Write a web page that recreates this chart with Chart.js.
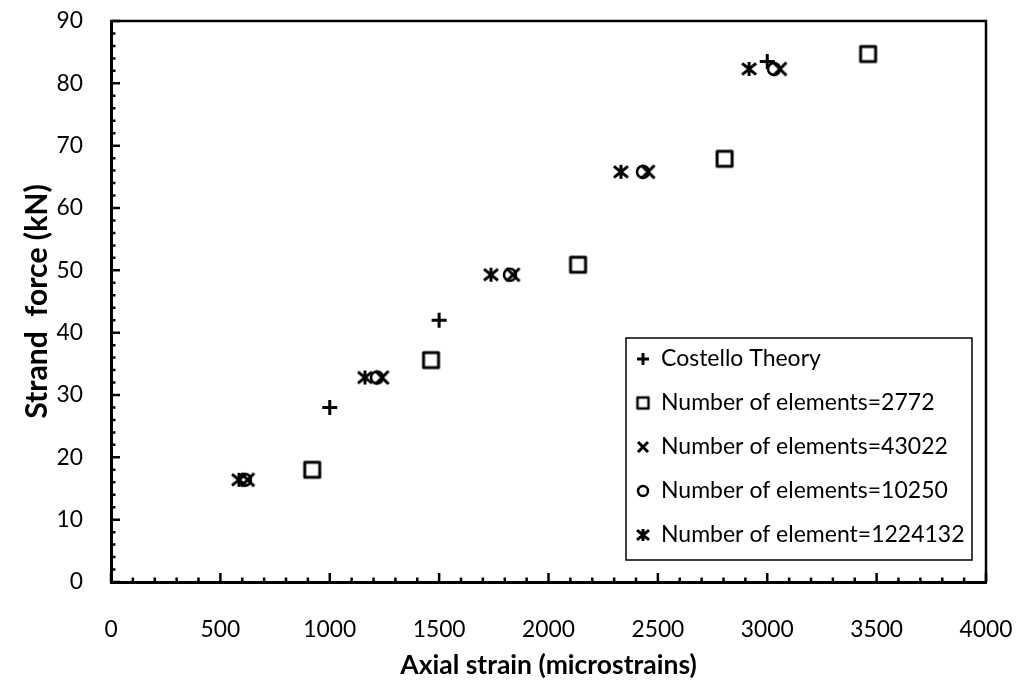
<!DOCTYPE html>
<html><head><meta charset="utf-8">
<script src="https://cdn.jsdelivr.net/npm/chart.js@4.4.0/dist/chart.umd.min.js"></script>
<style>html,body{margin:0;padding:0;background:#fff;}#wrap{width:1019px;height:685px;}</style>
</head><body><div id="wrap"><canvas id="c" width="1019" height="685"></canvas></div>
<script>
// ---- data ----
const seriesNames = ['Costello Theory','Number of elements=2772','Number of elements=43022','Number of elements=10250','Number of element=1224132'];
const costelloStrain = [1000, 1500, 3000];
const costelloForce  = [28, 42, 83.5];
const e2772Strain    = [920, 1463, 2135, 2805, 3461];
const e2772Force     = [18, 35.6, 50.9, 67.9, 84.7];
const e43022Strain   = [625, 1239, 1838, 2455, 3058];
const e43022Force    = [16.4, 32.8, 49.3, 65.8, 82.3];
const e10250Strain   = [612, 1216, 1824, 2432, 3031];
const e10250Force    = [16.4, 32.8, 49.3, 65.8, 82.3];
const e1224132Strain = [585, 1161, 1737, 2331, 2917];
const e1224132Force  = [16.4, 32.8, 49.3, 65.8, 82.3];
const xTickLabels = [0, 500, 1000, 1500, 2000, 2500, 3000, 3500, 4000];
const yTickLabels = [0, 10, 20, 30, 40, 50, 60, 70, 80, 90];
const xTitle = 'Axial strain (microstrains)';
const yTitle = 'Strand  force (kN)';

const FONT = 'Lato, "Open Sans", sans-serif';
// size a font so that a sample string has the width seen in the reference
const mctx = document.createElement('canvas').getContext('2d');
function fitSize(sample, target, weight) {
  mctx.font = (weight || 'normal') + ' 100px ' + FONT;
  return Math.round(100 * target / mctx.measureText(sample).width * 10) / 10;
}
const TICK_F = fitSize('1500', 53);
const LEG_F = fitSize('Number of elements=43022', 287);
const XT_F = fitSize(xTitle, 297, 'bold');
const YT_F = fitSize(yTitle, 235, 'bold');
const LEG_B = 36 - LEG_F, LEG_P = 44 - LEG_F;

function marker(kind, s, lw) {
  const pad = Math.ceil(lw) + 1;
  const c = document.createElement('canvas');
  c.width = c.height = Math.ceil(s + 2 * pad);
  const g = c.getContext('2d');
  const m = c.width / 2, h = s / 2;
  g.strokeStyle = '#000'; g.lineWidth = lw; g.lineJoin = 'round';
  g.beginPath();
  if (kind === 'plus') { g.moveTo(m - h, m); g.lineTo(m + h, m); g.moveTo(m, m - h); g.lineTo(m, m + h); }
  else if (kind === 'square') { g.rect(m - h, m - h, s, s); }
  else if (kind === 'x') { g.moveTo(m - h, m - h); g.lineTo(m + h, m + h); g.moveTo(m + h, m - h); g.lineTo(m - h, m + h); }
  else if (kind === 'circle') { g.arc(m, m, h, 0, Math.PI * 2); }
  else if (kind === 'star') { g.moveTo(m - h, m - h*0.8); g.lineTo(m + h, m + h*0.8); g.moveTo(m + h, m - h*0.8); g.lineTo(m - h, m + h*0.8); g.moveTo(m, m - h); g.lineTo(m, m + h); }
  g.stroke();
  return c;
}
const chartMarkers = [marker('plus',15,3), marker('square',15,3), marker('x',13,3), marker('circle',12,2.5), marker('star',14,3)];
const legendMarkers = [marker('plus',12,3), marker('square',11,2.5), marker('x',10,3), marker('circle',10,2.5), marker('star',12,3)];

function pts(xs, ys) { return xs.map((x, i) => ({x: x, y: ys[i]})); }
const seriesData = [
  pts(costelloStrain, costelloForce),
  pts(e2772Strain, e2772Force),
  pts(e43022Strain, e43022Force),
  pts(e10250Strain, e10250Force),
  pts(e1224132Strain, e1224132Force)
];

function legendBox(ca) {
  return {left: ca.left + 515, top: ca.top + 317, right: ca.right - 14, bottom: ca.bottom - 22};
}

const placer = {
  id: 'placer',
  afterLayout(chart) {
    const lg = chart.legend, ca = chart.chartArea;
    const b = legendBox(ca);
    lg.left = b.left + 17 - LEG_B / 2 - LEG_P;
    lg.top = b.top + 21 - LEG_P - LEG_F / 2;
    lg.right = chart.width; lg.bottom = b.bottom + 30;
    lg.width = lg.right - lg.left; lg.height = lg.bottom - lg.top;
  },
  afterDraw(chart) {
    const ctx = chart.ctx, ca = chart.chartArea;
    const xs = chart.scales.x, ys = chart.scales.y;
    ctx.save();
    ctx.strokeStyle = '#000';
    ctx.lineWidth = 2.5;
    ctx.beginPath();
    ctx.moveTo(ca.left, ca.top); ctx.lineTo(ca.right, ca.top); ctx.lineTo(ca.right, ca.bottom);
    ctx.stroke();
    ctx.lineWidth = 2.5;
    ctx.beginPath();
    for (let v = xs.min; v <= xs.max; v += 100) {
      const p = xs.getPixelForValue(v);
      const len = (v % 500 === 0) ? 9 : 4.5;
      ctx.moveTo(p, ca.bottom); ctx.lineTo(p, ca.bottom - len);
    }
    for (let v = ys.min; v <= ys.max; v += 2) {
      const p = ys.getPixelForValue(v);
      const len = (v % 10 === 0) ? 9 : 4.5;
      ctx.moveTo(ca.left, p); ctx.lineTo(ca.left + len, p);
    }
    ctx.stroke();
    const b = legendBox(ca);
    ctx.lineWidth = 1.5;
    ctx.strokeRect(b.left, b.top, b.right - b.left, b.bottom - b.top);
    ctx.restore();
  }
};

new Chart(document.getElementById('c'), {
  type: 'scatter',
  data: {
    datasets: seriesNames.map((name, i) => ({
      label: name,
      data: seriesData[i],
      pointStyle: chartMarkers[i],
      pointRadius: 8,
      borderColor: '#000',
      backgroundColor: '#000',
      showLine: false,
      clip: false
    }))
  },
  options: {
    responsive: false,
    devicePixelRatio: 1,
    animation: false,
    events: [],
    layout: {padding: {left: 0, top: 21, right: 33, bottom: 0}},
    scales: {
      x: {
        type: 'linear', min: 0, max: 4000,
        afterBuildTicks(s) { s.ticks = xTickLabels.map(v => ({value: v})); },
        afterFit(s) { s.height = 103; s.paddingLeft = 0; s.paddingRight = 0; },
        grid: {display: false, drawTicks: false},
        border: {display: true, color: '#000', width: 3},
        ticks: {color: '#000', padding: 34, maxRotation: 0, autoSkip: false,
          font: {family: FONT, size: TICK_F}, callback: v => String(v)},
        title: {display: true, text: xTitle, color: '#000',
          font: {family: FONT, size: XT_F, weight: 'bold'}, padding: {top: 0, bottom: 4}}
      },
      y: {
        type: 'linear', min: 0, max: 90,
        afterBuildTicks(s) { s.ticks = yTickLabels.map(v => ({value: v})); },
        afterFit(s) { s.width = 111; s.paddingTop = 0; s.paddingBottom = 0; },
        grid: {display: false, drawTicks: false},
        border: {display: true, color: '#000', width: 3},
        ticks: {color: '#000', padding: 28, autoSkip: false,
          font: {family: FONT, size: TICK_F}, callback: v => String(v)},
        title: {display: true, text: yTitle, color: '#000',
          font: {family: FONT, size: YT_F, weight: 'bold'}, padding: {top: 19, bottom: 0}}
      }
    },
    plugins: {
      tooltip: {enabled: false},
      legend: {
        position: 'chartArea',
        align: 'start',
        labels: {
          usePointStyle: true,
          boxWidth: LEG_B, boxHeight: LEG_B,
          padding: LEG_P,
          color: '#000',
          font: {family: FONT, size: LEG_F},
          generateLabels(chart) {
            const items = Chart.defaults.plugins.legend.labels.generateLabels(chart);
            items.forEach((it, i) => { it.pointStyle = legendMarkers[i]; });
            return items;
          }
        }
      }
    }
  },
  plugins: [placer]
});
</script></body></html>
